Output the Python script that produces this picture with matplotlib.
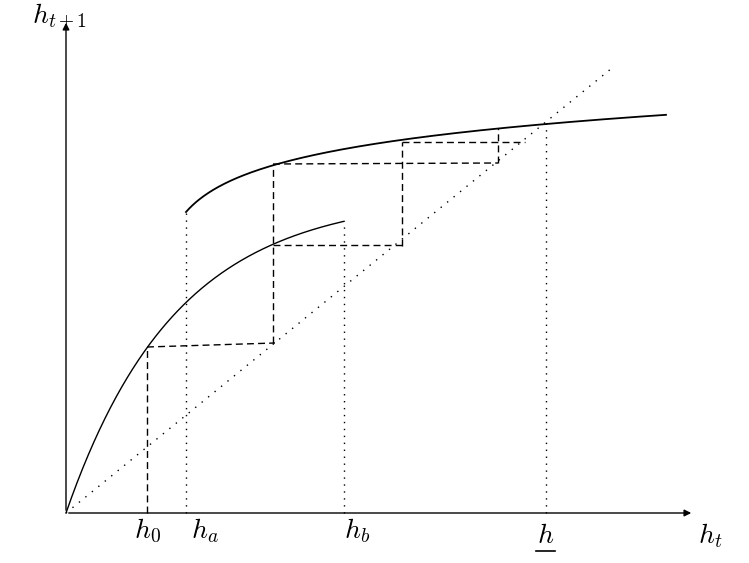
import numpy as np
import matplotlib.pyplot as plt

plt.rcParams['mathtext.fontset'] = 'cm'

# model curves (data in "origin-relative pixel" units)
low_a, low_b, low_end = 317, 110, 278          # lower branch h_{t+1}=a(1-exp(-h/b))
up_start, up_end, up_y0, up_c, up_s = 120, 600, 301, 34.3, 30   # upper branch, log shape
diag_slope, diag_end = 0.815, 546

# cobweb segments (x0, y0, x1, y1)
cobweb = [
    (81, 0, 81, 166), (81, 166, 209, 170), (207, 170, 207, 349),
    (207, 349, 432, 350), (432, 350, 432, 385),
    (207, 268, 336, 268), (336, 267, 336, 371), (336, 371, 459, 371),
]
dotted_v = [(120, 301), (278, 292), (480, 390)]
tick_labels = [(81, r'$h_0$'), (139, r'$h_a$'), (291, r'$h_b$'), (480, r'$h$')]

fig = plt.figure(figsize=(7.49, 5.63), dpi=100)
ax = fig.add_axes([0, 0, 1, 1])
ax.set_xlim(-66, 683)
ax.set_ylim(-50, 513)
ax.axis('off')

x = np.linspace(0, low_end, 300)
ax.plot(x, low_a * (1 - np.exp(-x / low_b)), color='black', lw=1)
x = np.linspace(up_start, up_end, 300)
ax.plot(x, up_y0 + up_c * np.log1p((x - up_start) / up_s), color='black', lw=1.3)
x = np.array([0, diag_end])
ax.plot(x, diag_slope * x, color='black', lw=1, ls=(0, (1, 5)))

for x0, y0, x1, y1 in cobweb:
    ax.plot([x0, x1], [y0, y1], color='black', lw=1, ls=(0, (5, 3)))
for xv, yv in dotted_v:
    ax.plot([xv, xv], [0, yv], color='black', lw=1, ls=(0, (1, 4)))

ax.annotate('', xy=(628, 0), xytext=(0, 0),
            arrowprops=dict(arrowstyle='-|>', color='black', lw=1, mutation_scale=10))
ax.annotate('', xy=(0, 493), xytext=(0, 0),
            arrowprops=dict(arrowstyle='-|>', color='black', lw=1, mutation_scale=10))

fs = 20
ax.text(-34, 496, r'$h_{t+1}$', fontsize=fs, ha='left', va='center')
ax.text(644, -23, r'$h_t$', fontsize=fs, ha='center', va='center')
for xv, lab in tick_labels:
    yy = -18 if lab != r'$h$' else -22
    ax.text(xv, yy, lab, fontsize=fs, ha='center', va='center')
# underline for the threshold label
ax.plot([470, 489], [-38, -38], color='black', lw=1.2)

fig.savefig('out.png', dpi=100)
